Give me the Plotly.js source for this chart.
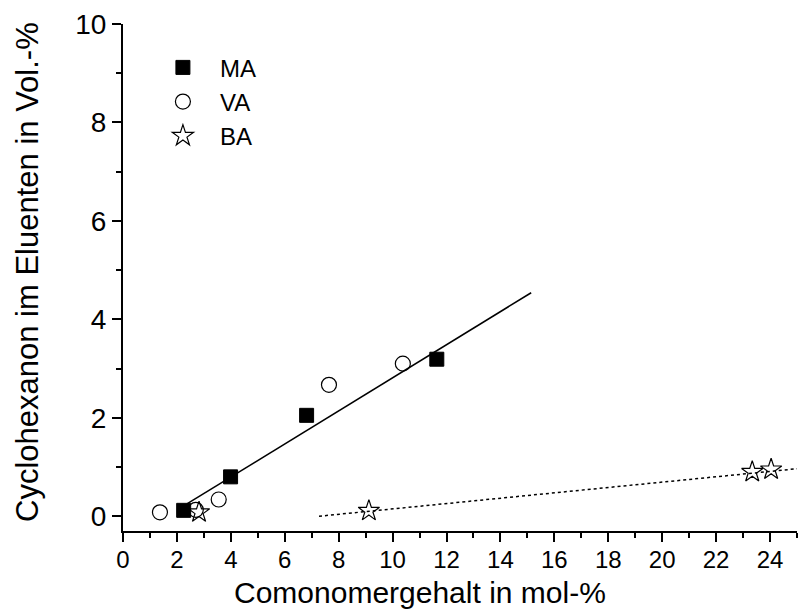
<!DOCTYPE html>
<html>
<head>
<meta charset="utf-8">
<script src="https://cdn.plot.ly/plotly-3.0.1.min.js"></script>
<style>html,body{margin:0;padding:0;background:#fff;}#chart{width:801px;height:610px;}</style>
</head>
<body>
<div id="chart"></div>
<script>
// Data
var maX = [2.25, 3.99, 6.81, 11.64];
var maY = [0.12, 0.80, 2.05, 3.19];
var vaX = [1.37, 2.70, 3.55, 7.64, 10.38];
var vaY = [0.08, 0.13, 0.34, 2.67, 3.10];
var baX = [2.82, 9.12, 23.34, 24.04];
var baY = [0.08, 0.11, 0.90, 0.95];
// Fit lines (end points)
var fitMAX = [2.37, 15.14];
var fitMAY = [0.25, 4.54];
var fitBAX = [7.27, 25.0];
var fitBAY = [0.0, 0.965];
var seriesNames = ['MA', 'VA', 'BA'];
var xTitle = 'Comonomergehalt in mol-%';
var yTitle = 'Cyclohexanon im Eluenten in Vol.-%';

var font = 'Arial, "Liberation Sans", Helvetica, sans-serif';

var traces = [
  {x: fitMAX, y: fitMAY, mode: 'lines', line: {color: 'black', width: 1.5}, showlegend: false, hoverinfo: 'skip'},
  {x: fitBAX, y: fitBAY, mode: 'lines', line: {color: 'black', width: 1.5, dash: 'dot'}, showlegend: false, hoverinfo: 'skip'},
  {x: maX, y: maY, mode: 'markers', name: seriesNames[0],
   marker: {symbol: 'square', size: 14, color: 'black', line: {color: 'black', width: 1}}},
  {x: vaX, y: vaY, mode: 'markers', name: seriesNames[1],
   marker: {symbol: 'circle-open', size: 15, color: 'black', line: {color: 'black', width: 1.2}}},
  {x: baX, y: baY, mode: 'markers', name: seriesNames[2],
   marker: {symbol: 'star-open', size: 16, color: 'black', line: {color: 'black', width: 1.2}}}
];

var layout = {
  width: 801, height: 610,
  margin: {l: 123, r: 4, t: 24, b: 79},
  paper_bgcolor: 'white', plot_bgcolor: 'white',
  font: {family: font, color: 'black', size: 20},
  showlegend: true,
  legend: {x: 0.034, y: 0.958, xanchor: 'left', yanchor: 'top', bgcolor: 'rgba(0,0,0,0)',
           font: {family: font, size: 24, color: 'black'}, itemwidth: 64, tracegroupgap: 0},
  xaxis: {
    range: [0, 25], tickmode: 'linear', tick0: 0, dtick: 2,
    ticks: 'outside', ticklen: 9, tickwidth: 2, tickcolor: 'black',
    showline: true, linecolor: 'black', linewidth: 2,
    showgrid: false, zeroline: false,
    tickfont: {family: font, size: 24, color: 'black'},
    ticklabelstandoff: -3,
    minor: {dtick: 1, tick0: 0, ticks: 'outside', ticklen: 5, tickwidth: 2, tickcolor: 'black', showgrid: false}
  },
  yaxis: {
    range: [-0.3, 10], tickmode: 'linear', tick0: 0, dtick: 2,
    ticks: 'outside', ticklen: 9, tickwidth: 2, tickcolor: 'black',
    showline: true, linecolor: 'black', linewidth: 2,
    showgrid: false, zeroline: false,
    tickfont: {family: font, size: 28, color: 'black'},
    minor: {dtick: 1, tick0: 0, ticks: 'outside', ticklen: 5, tickwidth: 2, tickcolor: 'black', showgrid: false}
  },
  annotations: [
    {text: xTitle, xref: 'paper', yref: 'paper', x: (420 - 123) / 674, y: (531 - 592) / 507,
     xanchor: 'center', yanchor: 'middle', showarrow: false,
     font: {family: font, size: 30, color: 'black'}},
    {text: yTitle, xref: 'paper', yref: 'paper', x: (27 - 123) / 674, y: (531 - 272) / 507,
     xanchor: 'center', yanchor: 'middle', showarrow: false, textangle: -90,
     font: {family: font, size: 31, color: 'black'}}
  ]
};

Plotly.newPlot('chart', traces, layout, {displayModeBar: false, staticPlot: true});
</script>
</body>
</html>
